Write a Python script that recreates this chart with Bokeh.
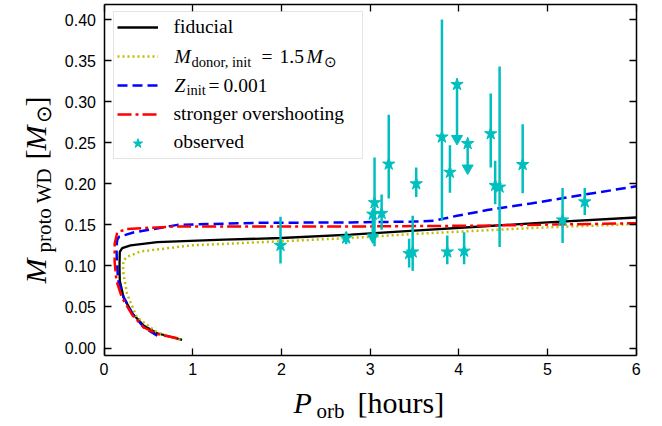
import math
from bokeh.plotting import figure
from bokeh.models import (ColumnDataSource, Range1d, LinearAxis, FixedTicker,
                          NumeralTickFormatter, CustomJSTickFormatter, Label,
                          Legend, LegendItem)
from bokeh.embed import file_html
from bokeh.resources import INLINE

# ---------------- data ----------------
fid_p = [0.88, 0.60, 0.45, 0.32, 0.22, 0.178, 0.175, 0.178, 0.205, 0.30, 0.60, 1.35, 2.0, 2.78, 3.5, 4.25, 5.0, 6.0]
fid_m = [0.010, 0.018, 0.027, 0.042, 0.062, 0.082, 0.100, 0.117, 0.1216, 0.125, 0.129, 0.132, 0.134, 0.138, 0.143, 0.148, 0.153, 0.159]

don_p = [0.86, 0.60, 0.37, 0.26, 0.22, 0.215, 0.22, 0.26, 0.41, 0.98, 1.99, 2.78, 3.5, 4.25, 5.0, 6.0]
don_m = [0.010, 0.019, 0.0375, 0.066, 0.090, 0.100, 0.1066, 0.111, 0.1175, 0.125, 0.130, 0.134, 0.139, 0.143, 0.147, 0.151]

z_p = [0.60, 0.45, 0.32, 0.22, 0.16, 0.145, 0.14, 0.15, 0.17, 0.34, 0.83, 1.73, 2.78, 3.49, 3.72, 3.80, 3.98, 4.32, 4.81, 5.37, 6.0]
z_m = [0.015, 0.025, 0.042, 0.062, 0.082, 0.105, 0.123, 0.132, 0.1355, 0.141, 0.150, 0.1525, 0.153, 0.154, 0.155, 0.157, 0.161, 0.168, 0.176, 0.186, 0.197]

ov_p = [0.83, 0.60, 0.45, 0.32, 0.20, 0.14, 0.12, 0.12, 0.15, 0.26, 0.79, 2.78, 4.25, 6.0]
ov_m = [0.012, 0.017, 0.025, 0.040, 0.062, 0.082, 0.105, 0.127, 0.141, 0.145, 0.148, 0.148, 0.149, 0.152]

obs_p  = [1.99, 2.73, 3.05, 3.13, 3.21, 3.52, 3.44, 3.48, 3.81, 3.90, 3.87, 4.06, 4.36, 4.41, 4.46, 4.72, 5.17, 5.42]
obs_m  = [0.125, 0.134, 0.177, 0.164, 0.224, 0.200, 0.115, 0.117, 0.257, 0.214, 0.117, 0.118, 0.261, 0.198, 0.196, 0.2235, 0.156, 0.178]
obs_lo = [0.022, 0.0075, 0.053, 0.020, 0.042, 0.016, 0.017, 0.023, 0.102, 0.025, 0.015, 0.016, 0.041, 0.023, 0.073, 0.035, 0.028, 0.016]
obs_hi = [0.035, 0.0075, 0.055, 0.023, 0.060, 0.020, 0.018, 0.044, 0.143, 0.033, 0.020, 0.023, 0.049, 0.030, 0.147, 0.049, 0.039, 0.017]

lim_p   = [3.03, 3.98, 4.10]
lim_m   = [0.163, 0.321, 0.249]
lim_len = [0.028, 0.066, 0.030]

x_ticks = [0, 1, 2, 3, 4, 5, 6]
y_ticks = [0.00, 0.05, 0.10, 0.15, 0.20, 0.25, 0.30, 0.35, 0.40]
XMIN, XMAX = 0.0, 6.0
YMIN, YMAX = -0.0091, 0.419

CYAN = "#00bfbf"
SERIF = "Liberation Serif"

# ---------------- layout: the frame covers the whole canvas, the plot box sits inside ----------------
W, H = 662, 426
BOX_L, BOX_R, BOX_T, BOX_B = 103.5, 635.7, 3.5, 355      # canvas pixels of the axes box
ppx = (BOX_R - BOX_L) / (XMAX - XMIN)
ppy = (BOX_B - BOX_T) / (YMAX - YMIN)
x_range = Range1d(XMIN - BOX_L / ppx, XMAX + (W - BOX_R) / ppx)
y_range = Range1d(YMIN - (H - BOX_B) / ppy, YMAX + BOX_T / ppy)

p = figure(width=W, height=H, output_backend="svg", toolbar_location=None,
           x_range=x_range, y_range=y_range, x_axis_type=None, y_axis_type=None,
           min_border=0)
p.outline_line_color = None
p.background_fill_color = "white"
p.border_fill_color = "white"


def make_axis(side, loc, ticks, bounds, fmt):
    ax = LinearAxis(fixed_location=loc, ticker=FixedTicker(ticks=ticks), bounds=bounds,
                    formatter=fmt)
    ax.major_tick_in = 7
    ax.major_tick_out = 0
    ax.minor_tick_line_color = None
    ax.major_tick_line_color = "black"
    ax.major_tick_line_width = 1.3
    ax.axis_line_color = "black"
    ax.axis_line_width = 1.5
    ax.major_label_text_font = "Liberation Sans"
    ax.major_label_text_font_size = "16px"
    ax.major_label_text_color = "black"
    p.add_layout(ax, side)
    return ax


blank = CustomJSTickFormatter(code="return ''")
bx = make_axis("below", YMIN, x_ticks, (XMIN, XMAX), NumeralTickFormatter(format="0"))
ly = make_axis("left", XMIN, y_ticks, (YMIN, YMAX), NumeralTickFormatter(format="0.00"))
tx = make_axis("above", YMAX, x_ticks, (XMIN, XMAX), blank)
ry = make_axis("right", XMAX, y_ticks, (YMIN, YMAX), blank)
bx.major_label_standoff = 7
ly.major_label_standoff = 8
for ax in (tx, ry):
    ax.major_label_text_font_size = "0px"

# ---------------- model tracks ----------------
r_fid = p.line(fid_p, fid_m, line_color="black", line_width=2.3)
r_don = p.line(don_p, don_m, line_color="#bfbf00", line_width=2.5, line_dash="2 3")
r_z = p.line(z_p, z_m, line_color="blue", line_width=2.5, line_dash="10 5")
r_ov = p.line(ov_p, ov_m, line_color="red", line_width=2.5, line_dash="14 4 3 4")

# ---------------- observations ----------------
obs = ColumnDataSource(dict(
    p=obs_p, m=obs_m,
    lo=[m - e for m, e in zip(obs_m, obs_lo)],
    hi=[m + e for m, e in zip(obs_m, obs_hi)],
))
p.segment(x0="p", y0="lo", x1="p", y1="hi", source=obs, line_color=CYAN, line_width=2.5)
r_star = p.scatter("p", "m", source=obs, marker="star", size=13, color=CYAN)

lim = ColumnDataSource(dict(
    p=lim_p, m=lim_m,
    end=[m - l for m, l in zip(lim_m, lim_len)],
))
p.segment(x0="p", y0="m", x1="p", y1="end", source=lim, line_color=CYAN, line_width=2.5)
p.scatter("p", "end", source=lim, marker="inverted_triangle", size=11, color=CYAN)
p.scatter("p", "m", source=lim, marker="star", size=13, color=CYAN)

# ---------------- legend (glyphs by Bokeh, texts as labels) ----------------
LEG_H = 146
legend = Legend(items=[
    LegendItem(label=" ", renderers=[r_fid]),
    LegendItem(label=" ", renderers=[r_don]),
    LegendItem(label=" ", renderers=[r_z]),
    LegendItem(label=" ", renderers=[r_ov]),
    LegendItem(label=" ", renderers=[r_star]),
], location=(113, H - 12.7 - LEG_H), margin=0, padding=3, spacing=5,
   glyph_height=24, glyph_width=41, label_standoff=14, label_width=187, label_height=20,
   label_text_font_size="10px",
   border_line_color="#cccccc", border_line_width=1,
   background_fill_color="white", background_fill_alpha=0.0)
p.add_layout(legend)

BASE_SHIFT = 0.32   # Bokeh places the alphabetic baseline ~0.32 em below the anchor


def txt(x, y, s, size, italic=False, angle=0.0):
    """x, y: page pixels of the start of the text's baseline."""
    px = float(size.replace("px", ""))
    d = BASE_SHIFT * px
    if angle:
        x = x - d
    else:
        y = y - d
    p.add_layout(Label(x=x, y=H - y, x_units="screen", y_units="screen", text=s,
                       text_font=SERIF, text_font_size=size,
                       text_font_style="italic" if italic else "normal",
                       text_baseline="alphabetic", text_align="left",
                       text_color="black", angle=angle, level="overlay"))


LG, SB = "19.5px", "14.5px"
txt(173, 32.5, "fiducial", LG)
txt(174, 62, "M", LG, True)
txt(191, 66, "donor, init", SB)
txt(261, 62, "=", LG)
txt(279, 62, "1.5", LG)
txt(306, 62, "M", LG, True)
txt(323, 66, "\u2299", SB)
txt(174, 91, "Z", LG, True)
txt(186, 94.5, "init", SB)
txt(208, 91, "=", LG)
txt(223, 91, "0.001", LG)
txt(173, 119, "stronger overshooting", LG)
txt(173, 147.5, "observed", LG)

# x-axis label
AX, AS = "30px", "21px"
txt(293, 412, "P", AX, True)
txt(316, 417, "orb", AS)
txt(357, 412, "[hours]", AX)

# y-axis label (rotated)
up = math.pi / 2
YL = 45
txt(YL, 283, "M", AX, True, up)
txt(YL + 5, 252, "proto WD", AS, False, up)
txt(YL, 159, "[", AX, False, up)
txt(YL, 150, "M", AX, True, up)
txt(YL + 5, 122, "\u2299", AS, False, up)
txt(YL, 106, "]", AX, False, up)

open("out.html", "w").write(file_html(p, INLINE))
